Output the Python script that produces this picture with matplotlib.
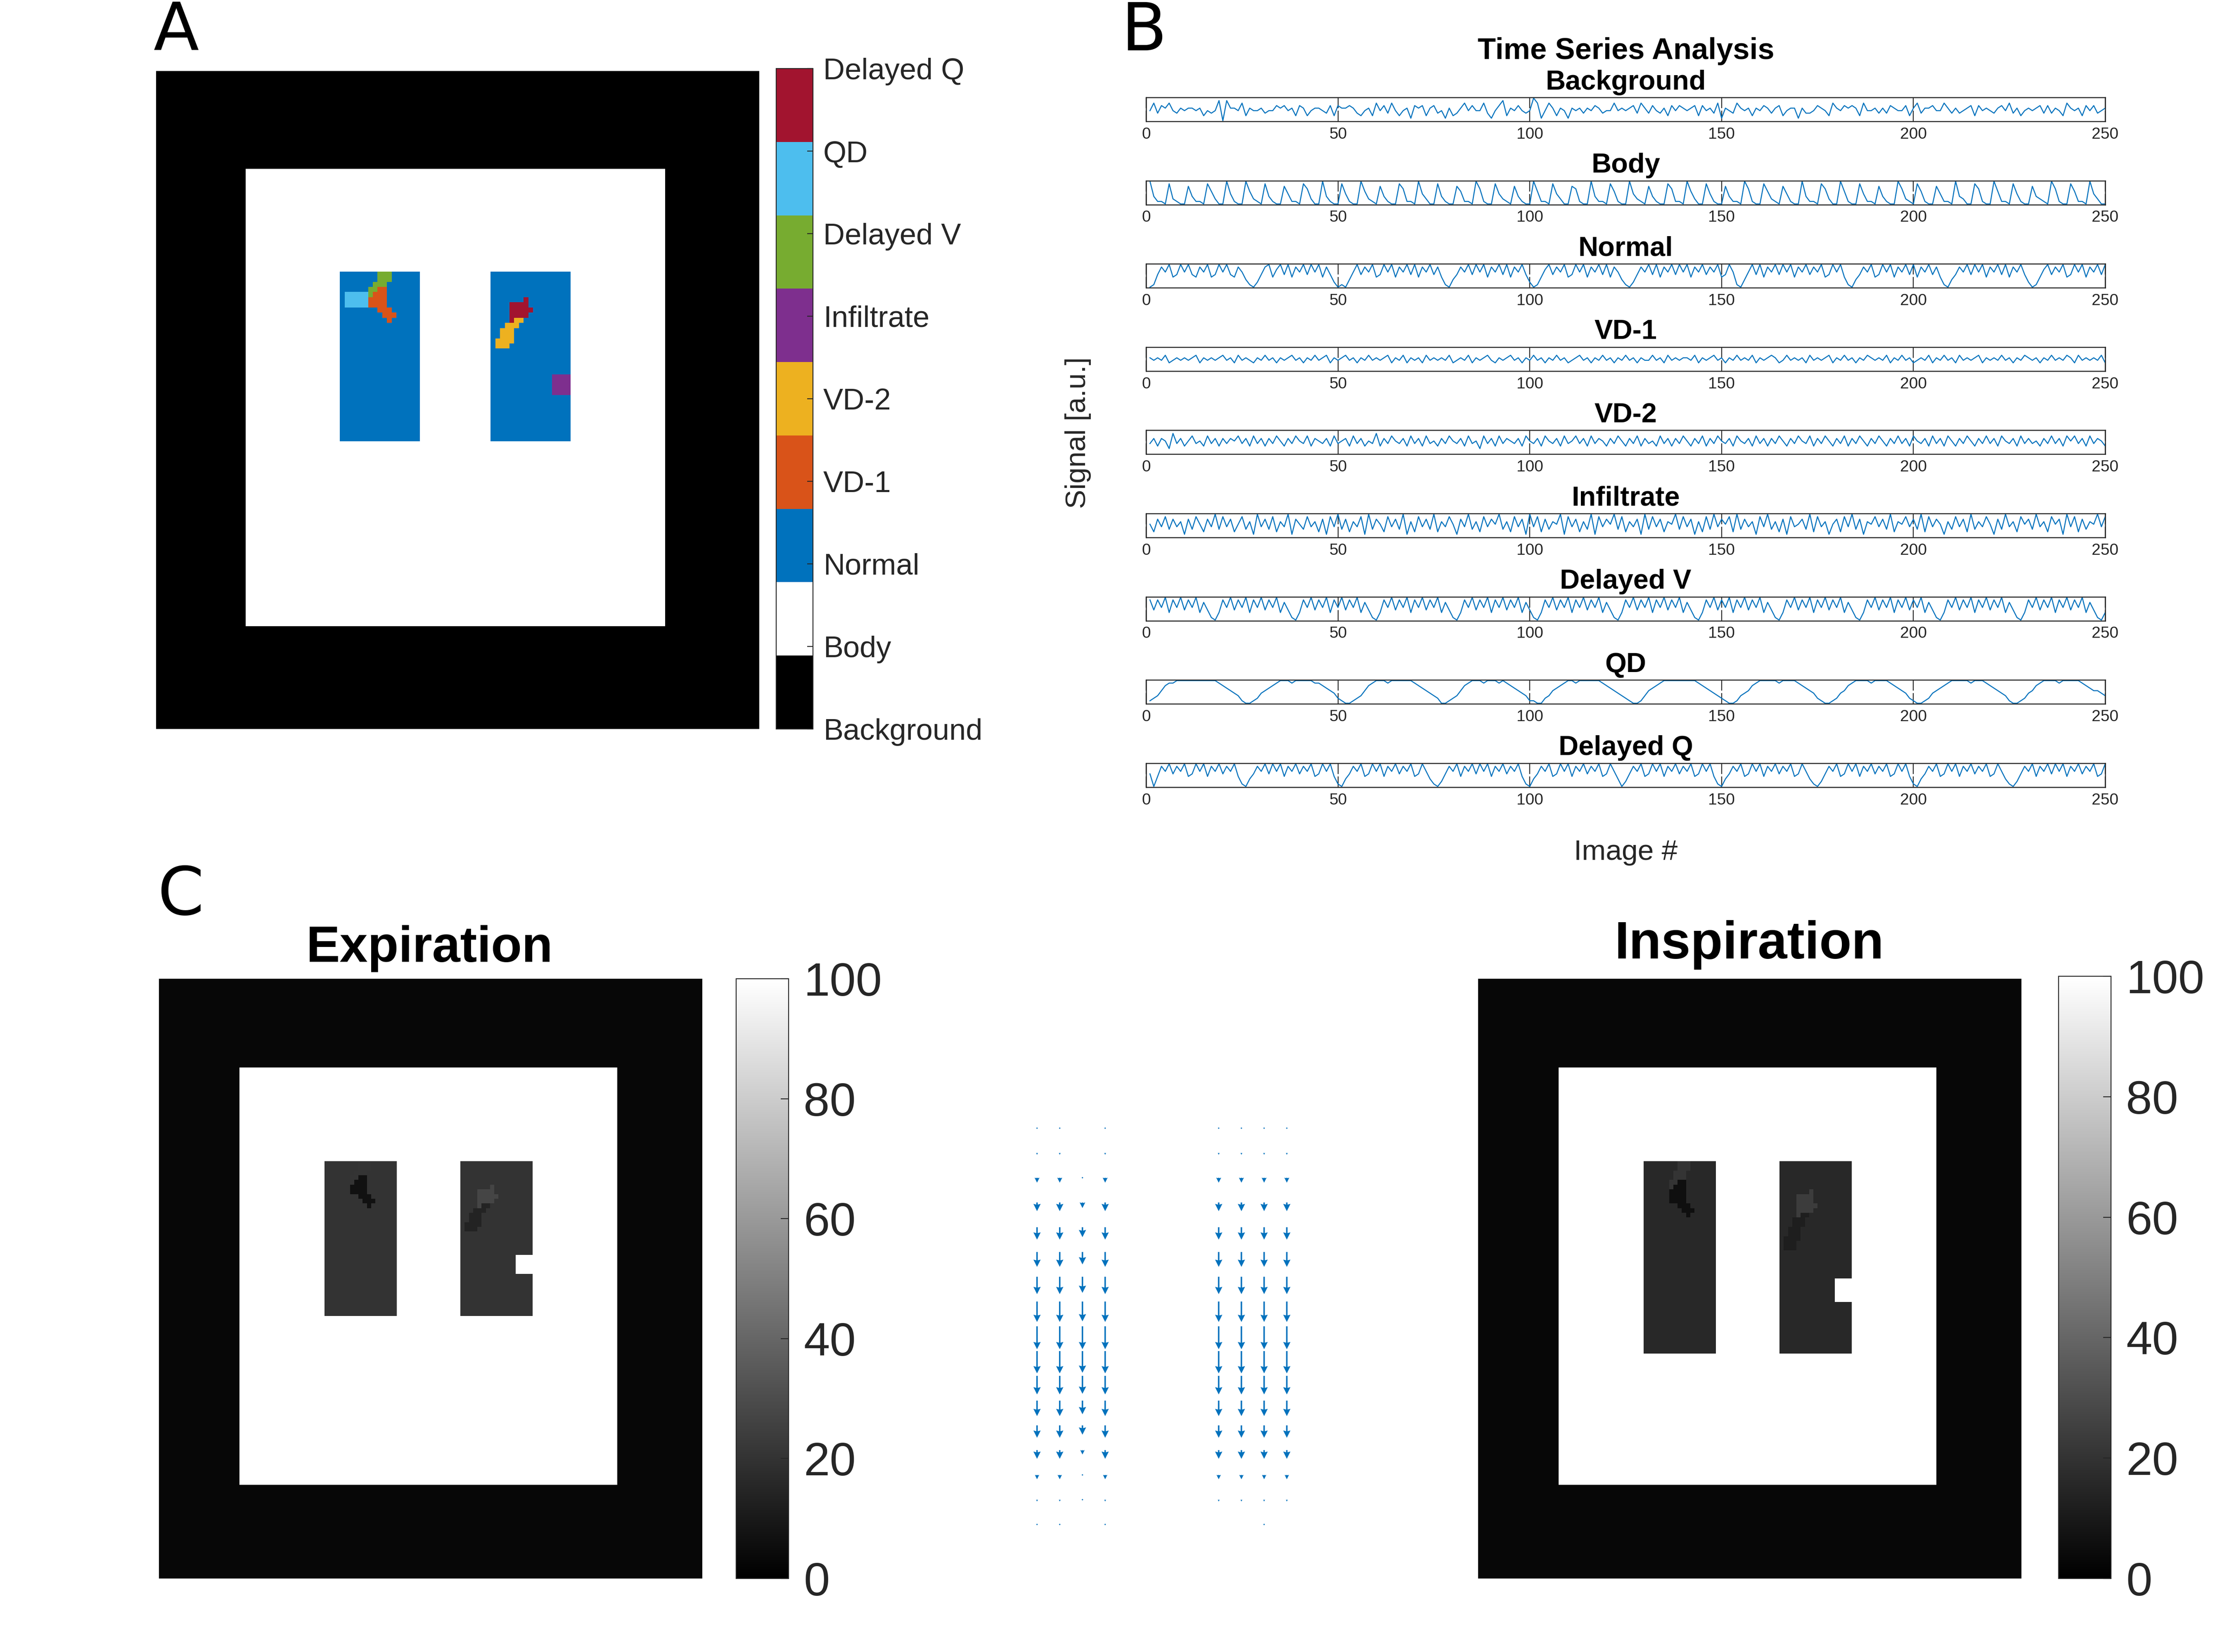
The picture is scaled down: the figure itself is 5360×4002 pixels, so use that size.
import numpy as np
import matplotlib
matplotlib.use("Agg")
import matplotlib.pyplot as plt
from matplotlib.colors import ListedColormap, Normalize
from matplotlib.cm import ScalarMappable

plt.rcParams['font.family'] = ['Liberation Sans', 'DejaVu Sans']

# ---------------- data ----------------
class_names = ['Background', 'Body', 'Normal', 'VD-1', 'VD-2',
               'Infiltrate', 'Delayed V', 'QD', 'Delayed Q']
class_colors = ['#000000', '#ffffff', '#0072bd', '#d95319', '#edb120',
                '#7e2f8e', '#77ac30', '#4dbeee', '#a2142f']

# phantom geometry on a 128 x 128 grid (half-open index ranges)
grid_n = 128
body_span = (19, 108)
lung_cols = [(39, 56), (71, 88)]
lung_rows_exp = (39, 72)
lung_rows_insp = (39, 80)

# lesions: class, lung, row0, row1, col0, col1 (relative to lung corner)
lesions = [
    ('Delayed V', 0, 0, 2, 8, 11),
    ('Delayed V', 0, 2, 3, 7, 10),
    ('Delayed V', 0, 3, 4, 6, 8),
    ('Delayed V', 0, 4, 5, 6, 7),
    ('VD-1', 0, 3, 4, 8, 10),
    ('VD-1', 0, 4, 5, 7, 10),
    ('VD-1', 0, 5, 7, 6, 10),
    ('VD-1', 0, 7, 8, 8, 11),
    ('VD-1', 0, 8, 9, 9, 12),
    ('VD-1', 0, 9, 10, 10, 11),
    ('QD', 0, 4, 7, 1, 6),
    ('Delayed Q', 1, 5, 6, 7, 8),
    ('Delayed Q', 1, 6, 7, 4, 8),
    ('Delayed Q', 1, 7, 8, 4, 9),
    ('Delayed Q', 1, 8, 9, 4, 8),
    ('Delayed Q', 1, 9, 10, 4, 5),
    ('VD-2', 1, 9, 10, 5, 7),
    ('VD-2', 1, 10, 11, 3, 6),
    ('VD-2', 1, 11, 13, 2, 5),
    ('VD-2', 1, 13, 14, 1, 5),
    ('VD-2', 1, 14, 15, 1, 4),
    ('Infiltrate', 1, 20, 24, 13, 17),
]

# grey levels (0-100) of each class in the two respiratory phases
exp_levels = [3, 100, 20, 7, 14, 100, 21, 20, 27]
insp_levels = [3, 100, 16, 6, 12, 100, 21, 16, 24]

# time series, one digit per image (signal level 0-9)
series_digits = {
    'Background': "4736574354" "5545243480" "8554725445" "3446564526" "5245543626"
                  "5565324527" "4637424516" "5625634152" "3574644731" "4682546434"
                  "9714752541" "5453546534" "4745456375" "3643526465" "4562645371"
                  "5437545254" "6535624551" "5334654275" "4656527445" "3536544625"
                  "7355644753" "5345626454" "3564735245" "4563635427" "5452646345",
    'Body': "9311082100" "7311085200" "9410095210" "8310074110" "8620093100"
            "8410095210" "7310086110" "9420083100" "7511096100" "8421073100"
            "9511084200" "7610093110" "8510094210" "7310086110" "9520084100"
            "7311096100" "8521074100" "9311086200" "9510084110" "7310096210"
            "8510074110" "9320086100" "9511084100" "7321096100" "8511094200",
    'Normal': "0158694596" "9548694596" "9548631025" "8947959486" "9596948520"
              "1036958694" "5969486959" "4869584103" "5869596948" "6959486952"
              "0147958694" "5969486959" "4863102586" "9594869596" "9486958694"
              "5961036959" "4869596948" "6958694596" "9410358694" "5969486959"
              "4869584103" "5869596948" "6959486952" "0147958694" "5969486959",
    'VD-1': "5454634545" "4563545456" "4536454354" "6453545645" "3546456354"
            "5645354645" "4563546354" "5364545463" "4546354564" "3545645354"
            "6453546453" "4564535464" "5354645354" "4645364545" "5463545645"
            "3546454635" "4565346454" "5364545635" "4645354654" "5463546453"
            "4546354645" "3645456354" "5464535465" "4535464546" "5364545463",
    'VD-2': "4636528463" "5745374636" "4657463746" "3647536475" "4736546374"
            "5637463548" "3647546374" "6374536475" "4637452746" "3746546375"
            "4637546374" "5746374653" "6475364736" "4537463647" "5364736475"
            "4637546374" "6364753647" "5473647536" "4736475364" "7536474637"
            "5463746375" "3647536474" "6375463746" "4536474637" "5746374653",
    'Infiltrate': "5274837461" "7385274938" "4725836194" "7382649175" "3846271849"
                  "3726481937" "5284739162" "8473926485" "1749362847" "5936284719"
                  "4827365918" "4726391847" "5938264719" "3847265938" "4716283947"
                  "5829374618" "4936271845" "7392846157" "2849371658" "4739265847"
                  "3928475163" "8472936485" "1739462857" "3946285719" "4827365948",
    'Delayed V': "8485938594" "8593741038" "5948593859" "4859374103" "8594859385"
                 "9485937410" "3859485938" "5948593741" "0385948593" "8594859374"
                 "1038594859" "3859485937" "4103859485" "9385948593" "7410385948"
                 "5938594859" "3741038594" "8593859485" "9374103859" "4859385948"
                 "5937410385" "9485938594" "8593741038" "5948593859" "4859374103",
    'QD': "1235788999" "9999999987" "6543100124" "5678999899" "9998876542"
          "1001235789" "9989999998" "7654320012" "3578999899" "9898765431"
          "1002356789" "9899999987" "6543210013" "5678999999" "9998765432"
          "1001345789" "9999899998" "7654210012" "4578999989" "9998765421"
          "0012456789" "9999899987" "6543100124" "5789999899" "9998765543",
    'Delayed Q': "5048695869" "4596948695" "8694103586" "9596948695" "8694596941"
                 "0358694596" "9486958694" "5963102586" "9486959694" "8695869410"
                 "3586945969" "4869586945" "9630258694" "5969486958" "6945969410"
                 "3586945969" "4869586945" "9631025869" "4596948695" "8694596941"
                 "0358694596" "9486958694" "5963102586" "9486959694" "8695869459",
}

# displacement field (image rows) between expiration and inspiration
arrow_cols = [41, 45, 49, 53, 73, 77, 81, 85]
arrow_rows = list(range(39, 72, 2))
nan = np.nan
disp_main = [0.02, 0.15, 0.4, 0.7, 1.0, 1.2, 1.4, 1.65, 1.85, 1.8, 1.5, 1.25, 1.0, 0.7, 0.35, 0.15, 0.02]
disp_third = [nan, nan, 0.05, 0.45, 0.8, 1.0, 1.3, 1.6, 1.85, 1.75, 1.45, 1.1, 0.75, 0.35, 0.1, 0.02, nan]
disp_edge = [0.02, 0.15, 0.4, 0.7, 1.0, 1.2, 1.4, 1.65, 1.85, 1.8, 1.5, 1.25, 1.0, 0.7, 0.35, 0.15, nan]
disp_by_col = [disp_main, disp_main, disp_third, disp_main,
               disp_edge, disp_edge, disp_main, disp_edge]

# ---------------- figure ----------------
W, H = 5360, 4002
fig = plt.figure(figsize=(W / 200, H / 200), dpi=200)


def box(x0, y0, x1, y1):
    # pixel rectangle (origin top-left) to figure fraction
    return [x0 / W, 1 - y1 / H, (x1 - x0) / W, (y1 - y0) / H]


def phantom(lung_rows):
    lab = np.zeros((grid_n, grid_n), dtype=int)
    lab[body_span[0]:body_span[1], body_span[0]:body_span[1]] = 1
    top, bot = lung_rows
    s = (bot - top) / (lung_rows_exp[1] - lung_rows_exp[0])
    for c0, c1 in lung_cols:
        lab[top:bot, c0:c1] = 2
    for name, k, r0, r1, cc0, cc1 in lesions:
        c0 = lung_cols[k][0]
        lab[top + int(round(r0 * s)):top + int(round(r1 * s)), c0 + cc0:c0 + cc1] = class_names.index(name)
    return lab


txt_col = '#262626'

# ---- panel A ----
lab_exp = phantom(lung_rows_exp)
axA = fig.add_axes(box(378, 172, 1838, 1766))
class_cmap = ListedColormap(class_colors)
axA.imshow(lab_exp, cmap=class_cmap, vmin=-0.5, vmax=8.5, aspect='auto', interpolation='nearest')
axA.axis('off')

caxA = fig.add_axes(box(1880, 166, 1969, 1766))
cbA = fig.colorbar(ScalarMappable(norm=Normalize(1, 9), cmap=class_cmap), cax=caxA, ticks=range(1, 10))
cbA.set_ticklabels(class_names)
caxA.tick_params(direction='in', length=5, width=0.8, colors=txt_col, labelsize=26, pad=9)
cbA.outline.set_edgecolor(txt_col)
cbA.outline.set_linewidth(0.8)

# ---- panel B ----
b_left, b_right = 2776, 5099
b_top0, b_step, b_h = 236, 201.6, 58
for i, name in enumerate(class_names):
    top = b_top0 + i * b_step
    ax = fig.add_axes(box(b_left, top, b_right, top + b_h))
    y = np.array([int(ch) for ch in series_digits[name]], dtype=float)
    ax.plot(np.arange(1, len(y) + 1), y, color='#0072bd', lw=0.9)
    ax.set_xlim(0, 250)
    ax.set_ylim(-0.25, 9.25)
    ax.set_xticks(range(0, 251, 50))
    ax.set_yticks([])
    ax.tick_params(axis='x', direction='in', length=9.5, width=0.8, top=True,
                   labelsize=14, pad=5, colors=txt_col)
    for sp in ax.spines.values():
        sp.set_color(txt_col)
        sp.set_linewidth(0.9)
    ax.set_title(name, fontsize=24, fontweight='bold', pad=7)

fig.text(3938 / W, 1 - 143 / H, 'Time Series Analysis', ha='center', va='baseline',
         fontsize=26, fontweight='bold')
fig.text(2611 / W, 1 - 1048 / H, 'Signal [a.u.]', ha='center', va='center',
         rotation=90, fontsize=25, color=txt_col)
fig.text(3938 / W, 1 - 2065 / H, 'Image #', ha='center', va='center',
         fontsize=25, color=txt_col)

# ---- panel C ----
lab_insp = phantom(lung_rows_insp)
img_exp = np.array(exp_levels, dtype=float)[lab_exp]
img_insp = np.array(insp_levels, dtype=float)[lab_insp]

for img, rect, crect, title, tsize, tpos in [
        (img_exp, (385, 2371, 1701, 3824), (1783, 2371, 1910, 3824), 'Expiration', 44, (1041, 2330)),
        (img_insp, (3580, 2371, 4896, 3824), (4986, 2365, 5113, 3824), 'Inspiration', 46, (4237, 2322))]:
    ax = fig.add_axes(box(*rect))
    ax.imshow(img, cmap='gray', vmin=0, vmax=100, aspect='auto', interpolation='nearest')
    ax.axis('off')
    cax = fig.add_axes(box(*crect))
    cb = fig.colorbar(ScalarMappable(norm=Normalize(0, 100), cmap='gray'), cax=cax,
                      ticks=range(0, 101, 20))
    cax.tick_params(direction='in', length=7, width=0.8, colors=txt_col, pad=13, labelsize=41)
    cb.outline.set_edgecolor(txt_col)
    cb.outline.set_linewidth(0.8)
    fig.text(tpos[0] / W, 1 - tpos[1] / H, title, ha='center', va='baseline',
             fontsize=tsize, fontweight='bold')

# displacement arrows
axQ = fig.add_axes(box(2223, 2463, 3323, 3963))
axQ.set_xlim(20, 100)
axQ.set_ylim(80, 30)
axQ.axis('off')
qx, qy, qv = [], [], []
for c, d in zip(arrow_cols, disp_by_col):
    for r, v in zip(arrow_rows, d):
        if not np.isnan(v):
            qx.append(c)
            qy.append(r)
            qv.append(v)
axQ.quiver(qx, qy, np.zeros(len(qv)), qv, angles='xy', scale_units='xy', scale=1,
           color='#0072bd', width=0.0032, headwidth=5, headlength=5, headaxislength=4.5)

# panel letters
for letter, (x, y) in {'A': (372, 121), 'B': (2715, 122), 'C': (382, 2216)}.items():
    fig.text(x / W, 1 - y / H, letter, ha='left', va='baseline', fontsize=58,
             family='DejaVu Sans')

fig.savefig('out.png', dpi=200, facecolor='white')
